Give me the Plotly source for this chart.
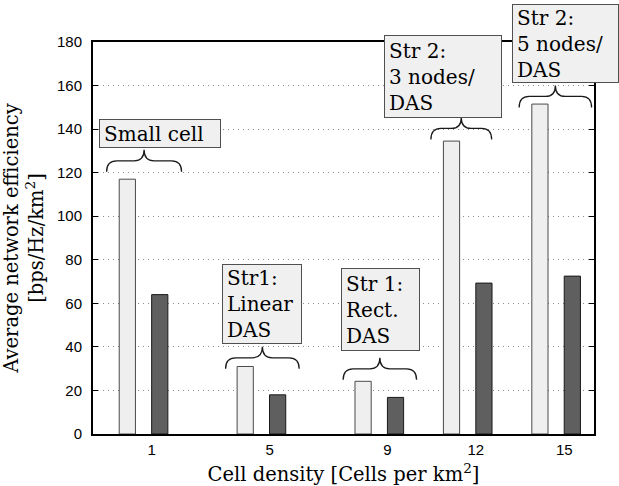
import plotly.graph_objects as go

# Cell densities (cells per km^2) and average network efficiency per scheme
cell_density = [1, 5, 9, 12, 15]
efficiency_light = [117.0, 31.0, 24.2, 134.5, 151.5]
efficiency_dark = [64.0, 18.0, 16.8, 69.3, 72.5]
scheme_labels = [
    "Small cell",
    "Str1:<br>Linear<br>DAS",
    "Str 1:<br>Rect.<br>DAS",
    "Str 2:<br>3 nodes/<br>DAS",
    "Str 2:<br>5 nodes/<br>DAS",
]
tick_labels = ["1", "5", "9", "12", "15"]

# Label box layout in pixels, relative to each group's light bar top:
# (x shift of left edge, y shift of bottom edge, box width, box height)
box_layout = [
    (-44.5, 30.8, 122, 29),
    (-40.0, 22.4, 80, 80),
    (-38.9, 30.5, 79, 83),
    (-84.0, 23.3, 118, 83),
    (-44.7, 20.6, 107, 79),
]
# Brace layout in pixels: (centre offset, base offset, width)
brace_layout = [
    (0.4, 7.4, 75),
    (0.8, -2.3, 73.6),
    (0.4, 1.5, 73.4),
    (-6.6, 1.7, 60.7),
    (-0.9, -3.4, 72.4),
]
BRACE_H = 22

SERIF = "DejaVu Serif, Liberation Serif, serif"
SANS = "Liberation Sans, Arial, sans-serif"

fig = go.Figure()
fig.add_trace(go.Bar(
    x=cell_density, y=efficiency_light,
    width=0.55, offset=-0.83,
    marker=dict(color="#efefef", line=dict(color="#4a4a4a", width=1)),
    showlegend=False,
))
fig.add_trace(go.Bar(
    x=cell_density, y=efficiency_dark,
    width=0.55, offset=0.27,
    marker=dict(color="#5f5f5f", line=dict(color="#1a1a1a", width=1)),
    showlegend=False,
))


def brace_path(cx, base, w, h):
    """Upward-pointing curly brace in pixel coordinates."""
    hw = w / 2.0
    m = h / 2.0
    r = min(10.0, hw / 3.0)
    return (
        f"M {cx - hw},{base} "
        f"Q {cx - hw},{base + m} {cx - hw + r},{base + m} "
        f"L {cx - r},{base + m} "
        f"Q {cx},{base + m} {cx},{base + h} "
        f"Q {cx},{base + m} {cx + r},{base + m} "
        f"L {cx + hw - r},{base + m} "
        f"Q {cx + hw},{base + m} {cx + hw},{base}"
    )


for xv, yv, (cx, base, w) in zip(cell_density, efficiency_light, brace_layout):
    fig.add_shape(
        type="path",
        xref="x", yref="y",
        xsizemode="pixel", ysizemode="pixel",
        xanchor=xv, yanchor=yv,
        path=brace_path(cx, base, w, BRACE_H),
        line=dict(color="#1a1a1a", width=1.3),
    )

BORDER = 1
PAD = 4
for xv, yv, text, (dx, dy, bw, bh) in zip(cell_density, efficiency_light,
                                          scheme_labels, box_layout):
    fig.add_annotation(
        x=xv, y=yv, xref="x", yref="y",
        xanchor="left", yanchor="bottom",
        xshift=dx, yshift=dy,
        text=text, showarrow=False,
        align="left", valign="middle",
        width=bw - 2 * (BORDER + PAD), height=bh - 2 * (BORDER + PAD),
        bgcolor="#f0f0f0", bordercolor="#505050",
        borderwidth=BORDER, borderpad=PAD,
        font=dict(family=SERIF, size=20, color="black"),
    )

fig.update_layout(
    width=619, height=486,
    margin=dict(l=93, r=25, t=42, b=52, autoexpand=False),
    paper_bgcolor="white", plot_bgcolor="white",
    barmode="overlay",
    xaxis=dict(
        range=[-0.72, 16.28], automargin=False,
        tickmode="array", tickvals=cell_density, ticktext=tick_labels,
        ticks="", ticklabelshift=8, ticklabelstandoff=1,
        showgrid=False, zeroline=False,
        showline=True, linecolor="black", linewidth=2, mirror=True,
        tickfont=dict(family=SANS, size=15, color="black"),
        title=dict(text="Cell density [Cells per km<sup>2</sup>]",
                   font=dict(family=SERIF, size=19.5, color="black")),
    ),
    yaxis=dict(
        range=[0, 180], dtick=20, automargin=False,
        ticks="inside", ticklen=5, tickcolor="black", tickwidth=1,
        showgrid=True, gridcolor="#8a8a8a", gridwidth=1, griddash="1px,4px",
        zeroline=False,
        showline=True, linecolor="black", linewidth=2, mirror="ticks",
        tickfont=dict(family=SANS, size=15, color="black"),
        ticklabelstandoff=6,
        title=dict(text="Average network efficiency<br>[bps/Hz/km<sup>2</sup>]",
                   font=dict(family=SERIF, size=19.5, color="black")),
    ),
)

fig.write_html("out.html")
